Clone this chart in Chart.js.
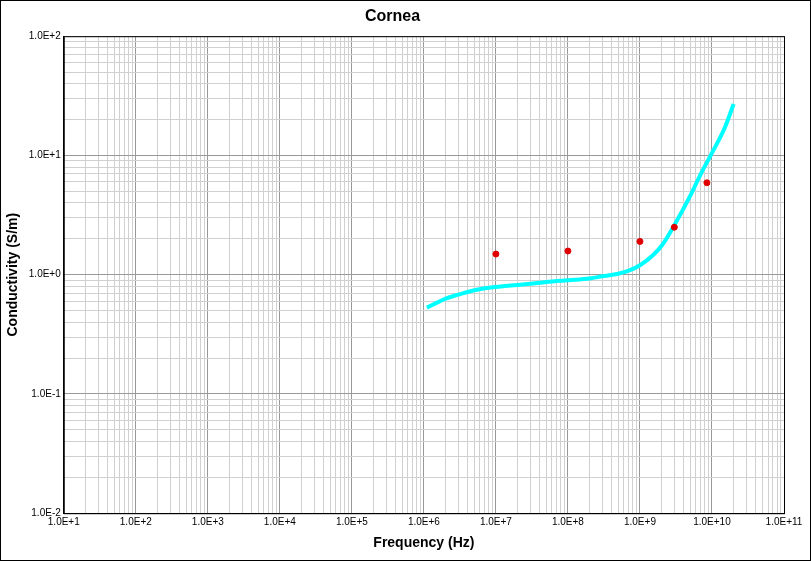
<!DOCTYPE html>
<html><head><script src="https://cdn.jsdelivr.net/npm/chart.js@4/dist/chart.umd.min.js"></script>
<style>body{margin:0;background:#fff}#w{width:809px;height:559px;border:1px solid #000;position:relative}</style></head>
<body><div id="w"><canvas id="c" width="809" height="559"></canvas></div>
<script>
const curveFreq=[1.1e6,1.5e6,2e6,3e6,5e6,7e6,1e7,2e7,3e7,5e7,1e8,2e8,3e8,5e8,7e8,1e9,1.5e9,2e9,3e9,5e9,7e9,1e10,1.5e10,2e10];
const curveCond=[0.53,0.58,0.63,0.68,0.74,0.77,0.79,0.82,0.84,0.87,0.9,0.93,0.97,1.02,1.08,1.2,1.45,1.75,2.6,4.6,7.0,10.5,17,27];
const measFreq=[1e7,1e8,1e9,3e9,8.5e9];
const measCond=[1.49,1.58,1.9,2.5,5.9];
function logTicks(min,max){const t=[];for(let e=Math.round(Math.log10(min));e<Math.round(Math.log10(max));e++){for(let m=1;m<10;m++)t.push({value:m*Math.pow(10,e)});}t.push({value:max});return t;}
const isMajor=v=>Math.abs(Math.log10(v)-Math.round(Math.log10(v)))<1e-9;
const lbl=v=>{const e=Math.round(Math.log10(v));return '1.0E'+(e<0?'-':'+')+Math.abs(e);};
const gridColor=c=>(c.tick&&isMajor(c.tick.value))?'#999':'#d0d0d0';
Chart.defaults.font.family='"Liberation Sans", Arial, sans-serif';
Chart.defaults.color='#000';
new Chart(document.getElementById('c'),{type:'scatter',
data:{datasets:[
{data:measFreq.map((x,i)=>({x,y:measCond[i]})),backgroundColor:'#e00000',borderColor:'#e00000',pointRadius:3,showLine:false},
{data:curveFreq.map((x,i)=>({x,y:curveCond[i]})),borderColor:'#00ffff',borderWidth:4,pointRadius:0,showLine:true,cubicInterpolationMode:'monotone'}]},
options:{responsive:false,animation:false,devicePixelRatio:1,
layout:{padding:{left:0,right:26,top:0,bottom:4}},
plugins:{legend:{display:false},tooltip:{enabled:false},title:{display:true,text:'Cornea',font:{size:16,weight:'bold'},padding:{top:6,bottom:10}}},
scales:{
x:{type:'logarithmic',min:10,max:1e11,afterBuildTicks:a=>{a.ticks=logTicks(10,1e11)},
ticks:{autoSkip:false,maxRotation:0,font:{size:10},callback:v=>isMajor(v)?lbl(v):''},
grid:{color:gridColor,drawTicks:false},border:{color:'#000'},
title:{display:true,text:'Frequency (Hz)',font:{size:14,weight:'bold'}}},
y:{type:'logarithmic',min:0.01,max:100,afterBuildTicks:a=>{a.ticks=logTicks(0.01,100)},
ticks:{autoSkip:false,font:{size:10},callback:v=>isMajor(v)?lbl(v):''},
grid:{color:gridColor,drawTicks:false},border:{color:'#000'},
title:{display:true,text:'Conductivity (S/m)',font:{size:14,weight:'bold'}}}}},
plugins:[{id:'box',afterDraw(ch){const a=ch.chartArea,x=ch.ctx;x.save();x.strokeStyle='#000';x.lineWidth=1;x.strokeRect(a.left+0.5,a.top+0.5,a.width,a.height);x.restore();}}]
});
</script></body></html>
